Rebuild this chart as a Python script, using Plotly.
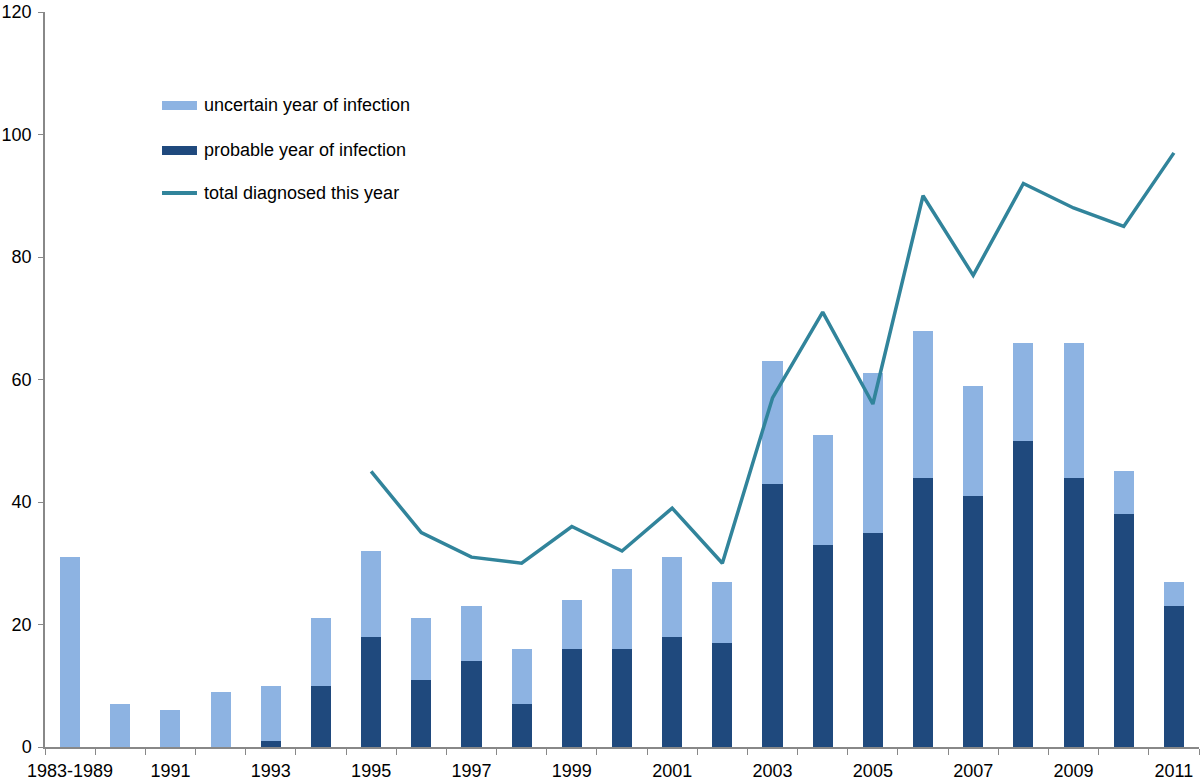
import plotly.graph_objects as go

categories = ["1983-1989"] + [str(y) for y in range(1990, 2012)]
bar_totals = [31, 7, 6, 9, 10, 21, 32, 21, 23, 16, 24, 29, 31, 27, 63, 51, 61, 68, 59, 66, 66, 45, 27]
probable = [0, 0, 0, 0, 1, 10, 18, 11, 14, 7, 16, 16, 18, 17, 43, 33, 35, 44, 41, 50, 44, 38, 23]
uncertain = [t - p for t, p in zip(bar_totals, probable)]
line_years = [str(y) for y in range(1995, 2012)]
total_diagnosed = [45, 35, 31, 30, 36, 32, 39, 30, 57, 71, 56, 90, 77, 92, 88, 85, 97]
tick_text = [c if i % 2 == 0 else "" for i, c in enumerate(categories)]
legend_labels = ["uncertain year of infection", "probable year of infection", "total diagnosed this year"]

C_UNC = "#8DB3E2"
C_PROB = "#1F497D"
C_LINE = "#31849B"

fig = go.Figure()
fig.add_trace(go.Bar(x=categories, y=probable, name=legend_labels[1],
                     marker=dict(color=C_PROB, line=dict(width=0)), showlegend=False))
fig.add_trace(go.Bar(x=categories, y=uncertain, name=legend_labels[0],
                     marker=dict(color=C_UNC, line=dict(width=0)), showlegend=False))
fig.add_trace(go.Scatter(x=line_years, y=total_diagnosed, name=legend_labels[2],
                         mode="lines", line=dict(color=C_LINE, width=3.5), showlegend=False))

# manual legend (wide swatches like the reference)
sx0, sx1, tx = 0.1014, 0.1317, 0.136
fig.add_shape(type="rect", xref="paper", yref="paper", x0=sx0, x1=sx1, y0=0.8667, y1=0.8789,
              fillcolor=C_UNC, line=dict(width=0))
fig.add_shape(type="rect", xref="paper", yref="paper", x0=sx0, x1=sx1, y0=0.8054, y1=0.8176,
              fillcolor=C_PROB, line=dict(width=0))
fig.add_shape(type="line", xref="paper", yref="paper", x0=sx0, x1=sx1, y0=0.7537, y1=0.7537,
              line=dict(color=C_LINE, width=4))
for lab, yy in zip(legend_labels, [0.8735, 0.8122, 0.7537]):
    fig.add_annotation(xref="paper", yref="paper", x=tx, y=yy, text=lab, showarrow=False,
                       xanchor="left", yanchor="middle", font=dict(size=18))

fig.update_layout(
    width=1200, height=781,
    barmode="stack", bargap=0.6,
    plot_bgcolor="white", paper_bgcolor="white",
    margin=dict(l=45, r=1, t=12, b=34),
    font=dict(family="Liberation Sans, Arial, sans-serif", size=18, color="black"),
    showlegend=False,
    xaxis=dict(type="category", tickvals=categories, ticktext=tick_text,
               tickson="boundaries", ticks="outside", ticklen=6, tickcolor="#888888",
               showline=True, linecolor="#888888", linewidth=1.5, showgrid=False,
               tickfont=dict(size=18), tickangle=0, automargin=False, range=[-0.5, 22.5],
               ticklabelstandoff=7),
    yaxis=dict(range=[0, 120], dtick=20, ticks="outside", ticklen=5, tickcolor="#888888",
               showline=True, linecolor="#888888", linewidth=1.5, showgrid=False,
               zeroline=False, tickfont=dict(size=18), automargin=False,
               ticklabelstandoff=3),
)

fig.write_html("out.html", config={"displayModeBar": False},
               post_script="document.body.style.margin='0';document.body.style.overflow='hidden';")
